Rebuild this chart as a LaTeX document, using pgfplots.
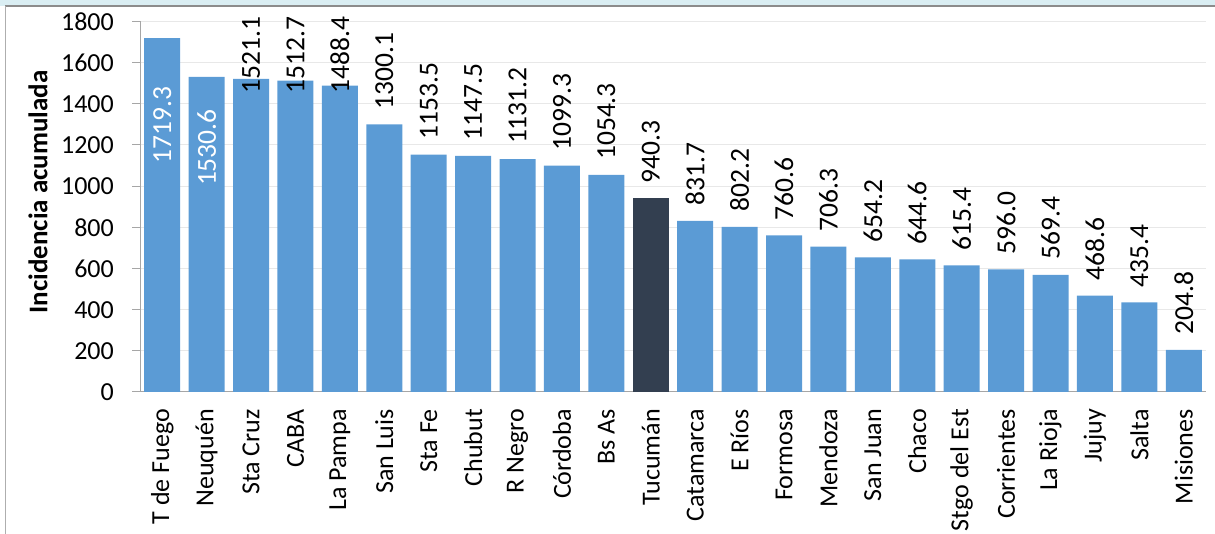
\documentclass[border=0pt]{standalone}
\usepackage{fontspec}
\setmainfont{Carlito}
\usepackage{pgfplots}
\pgfplotsset{compat=1.18}
\definecolor{barblue}{HTML}{5B9BD5}
\definecolor{bardark}{HTML}{333F50}
\definecolor{axisgray}{HTML}{A6A6A6}
\definecolor{gridgray}{HTML}{E8E8E8}
\definecolor{stripblue}{HTML}{DAEEF3}
\definecolor{framegray}{HTML}{8C8C8C}
\begin{document}
\begin{tikzpicture}
\fill[stripblue] (0pt,528pt) rectangle (1215pt,534pt);
\draw[framegray, line width=1.2pt] (5pt,528pt) -- (1215pt,528pt);
\draw[framegray!70, line width=1pt] (5pt,0pt) -- (5pt,528pt);
\begin{axis}[
  at={(140pt,142pt)}, anchor=south west,
  width=1066pt, height=370.5pt, scale only axis,
  xmin=-0.5, xmax=23.5, ymin=0, ymax=1800,
  clip=false,
  font=\fontsize{26}{31}\selectfont,
  axis lines*=left,
  axis line style={axisgray, line width=1pt},
  every tick/.style={axisgray, line width=1pt},
  tick align=outside,
  ytick={0,200,...,1800},
  major tick length=8pt,
  minor tick length=8pt,
  xtick={0,...,23},
  x tick style={draw=none},
  minor xtick={-0.5,0.5,...,23.5},
  xticklabels={T de Fuego,Neuquén,Sta Cruz,CABA,La Pampa,San Luis,Sta Fe,Chubut,R Negro,Córdoba,Bs As,Tucumán,Catamarca,E Ríos,Formosa,Mendoza,San Juan,Chaco,Stgo del Est,Corrientes,La Rioja,Jujuy,Salta,Misiones},
  xticklabel style={yshift=-9pt, rotate=90, anchor=east, inner sep=0pt},
  yticklabel style={anchor=east, inner sep=0pt, xshift=-18pt},
  /pgf/number format/assume math mode=true,
  /pgf/number format/1000 sep={},
  ymajorgrids, grid style={gridgray, line width=1pt},
  ybar, bar width=0.81, bar shift=0pt,
  nodes near coords style={font=\fontsize{27.5}{33}\selectfont},
]
% bars without automatic labels (first five)
\addplot[fill=barblue, draw=none] coordinates {
  (0,1719.3) (1,1530.6) (2,1521.1) (3,1512.7) (4,1488.4)
};
% bars with labels above
\addplot[fill=barblue, draw=none,
  point meta=explicit symbolic,
  nodes near coords,
  every node near coord/.append style={rotate=90, anchor=west, inner ysep=0pt, inner xsep=15pt, black}
] coordinates {
  (5,1300.1) [1300.1]
  (6,1153.5) [1153.5]
  (7,1147.5) [1147.5]
  (8,1131.2) [1131.2]
  (9,1099.3) [1099.3]
  (10,1054.3) [1054.3]
  (12,831.7) [831.7]
  (13,802.2) [802.2]
  (14,760.6) [760.6]
  (15,706.3) [706.3]
  (16,654.2) [654.2]
  (17,644.6) [644.6]
  (18,615.4) [615.4]
  (19,596.0) [596.0]
  (20,569.4) [569.4]
  (21,468.6) [468.6]
  (22,435.4) [435.4]
  (23,204.8) [204.8]
};
\addplot[fill=bardark, draw=none,
  point meta=explicit symbolic,
  nodes near coords,
  every node near coord/.append style={rotate=90, anchor=west, inner ysep=0pt, inner xsep=15pt, black}
] coordinates {(11,940.3) [940.3]};
% labels inside the first two bars (white)
\addplot[draw=none, mark=none, only marks, forget plot,
  point meta=explicit symbolic,
  nodes near coords,
  every node near coord/.append style={rotate=90, anchor=west, inner sep=0pt, white}
] coordinates {(0,1110) [1719.3] (1,1000) [1530.6]};
% labels pushed down to the chart top
\addplot[draw=none, mark=none, only marks, forget plot,
  point meta=explicit symbolic,
  nodes near coords,
  every node near coord/.append style={rotate=90, anchor=west, inner sep=0pt, black}
] coordinates {(2,1450) [1521.1] (3,1450) [1512.7] (4,1450) [1488.4]};
\end{axis}
\node[rotate=90, font=\fontsize{27}{32}\selectfont\bfseries, inner sep=0pt] at (38pt,342pt) {Incidencia acumulada};
\pgfresetboundingbox
\useasboundingbox (0,0) rectangle (1215pt,534pt);
\end{tikzpicture}
\end{document}
